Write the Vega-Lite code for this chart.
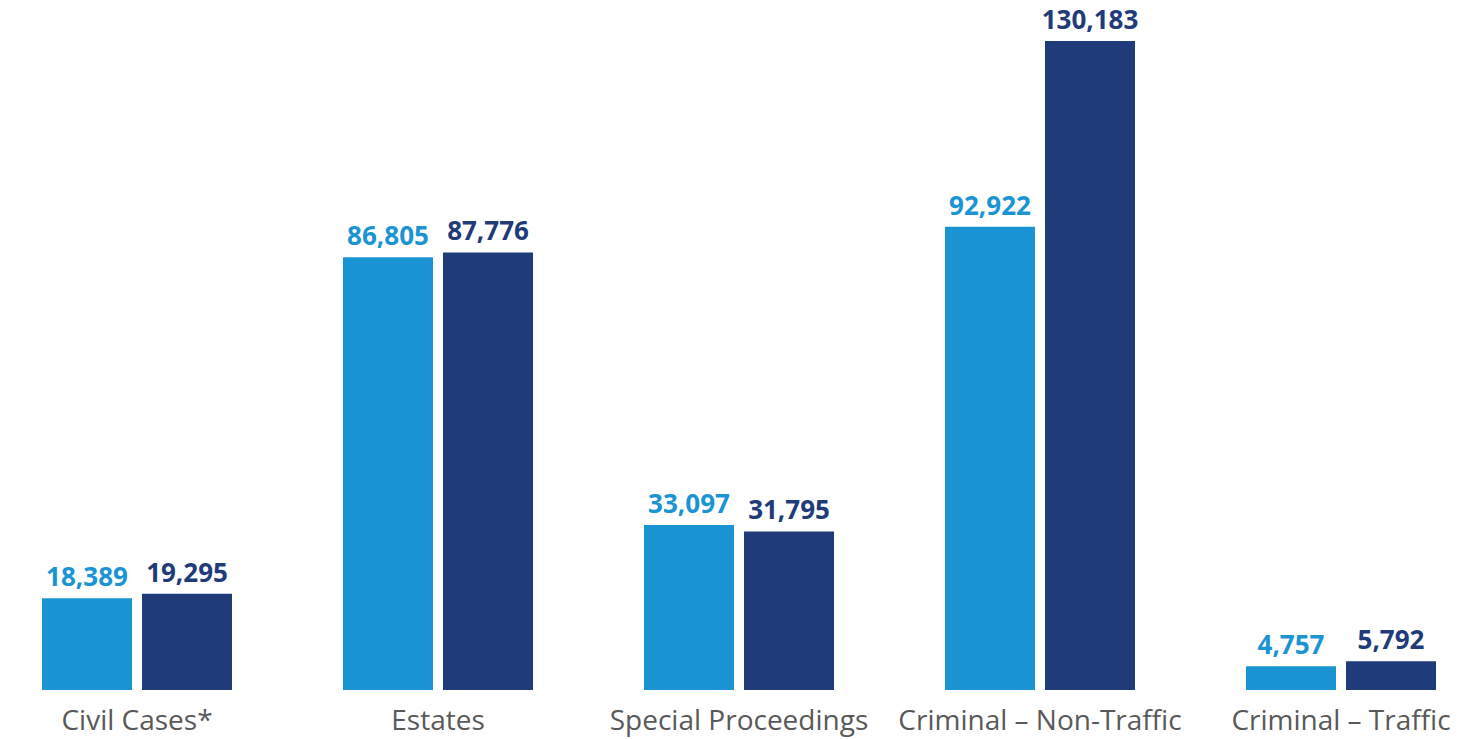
{
  "$schema": "https://vega.github.io/schema/vega-lite/v6.json",
  "autosize": "none",
  "padding": {"left": 0, "top": 0, "right": 0, "bottom": 49},
  "width": 1478,
  "height": 690,
  "background": "#ffffff",
  "config": {"view": {"stroke": null}, "font": "Open Sans"},
  "data": {"values": [
    {"category": "Civil Cases*", "series": "Prior", "value": 18389},
    {"category": "Civil Cases*", "series": "Current", "value": 19295},
    {"category": "Estates", "series": "Prior", "value": 86805},
    {"category": "Estates", "series": "Current", "value": 87776},
    {"category": "Special Proceedings", "series": "Prior", "value": 33097},
    {"category": "Special Proceedings", "series": "Current", "value": 31795},
    {"category": "Criminal – Non-Traffic", "series": "Prior", "value": 92922},
    {"category": "Criminal – Non-Traffic", "series": "Current", "value": 130183},
    {"category": "Criminal – Traffic", "series": "Prior", "value": 4757},
    {"category": "Criminal – Traffic", "series": "Current", "value": 5792}
  ]},
  "encoding": {
    "x": {"field": "category", "type": "nominal", "sort": null, "title": null,
      "scale": {"paddingInner": 0.3355, "paddingOuter": 0.1229},
      "axis": {"domain": false, "ticks": false, "labelAngle": 0, "labelFontSize": 28, "labelColor": "#595959", "labelPadding": 17, "labelLimit": 0, "labelFont": "Open Sans"}},
    "xOffset": {"field": "series", "type": "nominal", "sort": ["Prior", "Current"],
      "scale": {"paddingInner": 0.1, "paddingOuter": 0.05}},
    "y": {"field": "value", "type": "quantitative", "title": null,
      "scale": {"domain": [0, 138410], "nice": false, "zero": true},
      "axis": null},
    "color": {"field": "series", "type": "nominal", "legend": null,
      "scale": {"domain": ["Prior", "Current"], "range": ["#1a94d2", "#1f3b7a"]}}
  },
  "layer": [
    {"mark": {"type": "bar"}},
    {"mark": {"type": "text", "baseline": "bottom", "dy": -7, "fontSize": 26, "fontWeight": "bold", "font": "Open Sans"},
     "encoding": {"text": {"field": "value", "type": "quantitative", "format": ","}}}
  ]
}
